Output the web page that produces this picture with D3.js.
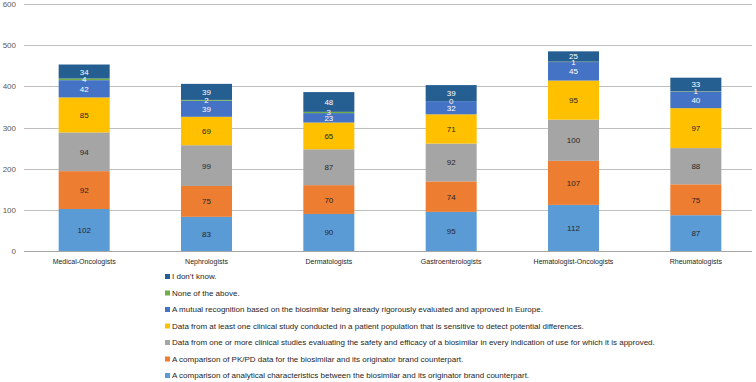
<!DOCTYPE html>
<html>
<head>
<meta charset="utf-8">
<script src="https://cdn.jsdelivr.net/npm/d3@7"></script>
<style>
  body { margin: 0; background: #fff; }
  svg { display: block; font-family: Arial, "Liberation Sans", sans-serif; }
</style>
</head>
<body>
<div id="chart"></div>
<script>
// categories along the x axis
const categories = ["Medical-Oncologists", "Nephrologists", "Dermatologists",
  "Gastroenterologists", "Hematologist-Oncologists", "Rheumatologists"];

// series names (bottom of stack first)
const seriesNames = [
  "A comparison of analytical characteristics between the biosimilar and its originator brand counterpart.",
  "A comparison of PK/PD data for the biosimilar and its originator brand counterpart.",
  "Data from one or more clinical studies evaluating the safety and efficacy of a biosimilar in every indication of use for which it is approved.",
  "Data from at least one clinical study conducted in a patient population that is sensitive to detect potential differences.",
  "A mutual recognition based on the biosimilar being already rigorously evaluated and approved in Europe.",
  "None of the above.",
  "I don\u2019t know."
];

// values per series, one per category
const analytical = [102, 83, 90, 95, 112, 87];
const pkpd       = [92, 75, 70, 74, 107, 75];
const everyIndic = [94, 99, 87, 92, 100, 88];
const sensitive  = [85, 69, 65, 71, 95, 97];
const mutual     = [42, 39, 23, 32, 45, 40];
const noneAbove  = [4, 2, 3, 0, 1, 1];
const dontKnow   = [34, 39, 48, 39, 25, 33];

const yTicks = [0, 100, 200, 300, 400, 500, 600];

const colors = ["#5B9BD5", "#ED7D31", "#A5A5A5", "#FFC000", "#4472C4", "#70AD47", "#255E91"];
const labelColors = ["#262626", "#262626", "#262626", "#262626", "#ffffff", "#ffffff", "#ffffff"];

const seriesValues = [analytical, pkpd, everyIndic, sensitive, mutual, noneAbove, dontKnow];
const keys = seriesNames.map((d, i) => "s" + i);
const table = categories.map((c, ci) => {
  const row = {category: c};
  keys.forEach((k, si) => row[k] = seriesValues[si][ci]);
  return row;
});

const width = 756, height = 382;
const svg = d3.select("#chart").append("svg")
  .attr("width", width)
  .attr("height", height);

const x = d3.scaleBand()
  .domain(categories)
  .range([23, 757])
  .paddingInner(0.583)
  .paddingOuter(0.2915);

const y = d3.scaleLinear()
  .domain([0, 600])
  .range([251, 4]);

// gridlines
svg.append("g")
  .selectAll("line")
  .data(yTicks)
  .join("line")
    .attr("x1", 24)
    .attr("x2", 752)
    .attr("y1", d => Math.round(y(d)) + 0.5)
    .attr("y2", d => Math.round(y(d)) + 0.5)
    .attr("stroke", d => d === 0 ? "#a6a6a6" : "#bfbfbf")
    .attr("stroke-width", 1);

// y tick labels
svg.append("g")
  .selectAll("text")
  .data(yTicks)
  .join("text")
    .attr("x", 16)
    .attr("y", d => y(d) + 3)
    .attr("text-anchor", "end")
    .attr("font-size", "8px")
    .attr("fill", "#595959")
    .text(d => d);

// stacked bars
const stacked = d3.stack().keys(keys)(table);

const layers = svg.append("g")
  .selectAll("g")
  .data(stacked)
  .join("g")
    .attr("fill", (d, i) => colors[i]);

layers.selectAll("rect")
  .data(d => d)
  .join("rect")
    .attr("x", d => x(d.data.category))
    .attr("y", d => y(d[1]))
    .attr("width", x.bandwidth())
    .attr("height", d => y(d[0]) - y(d[1]));

// value labels
const labels = svg.append("g")
  .selectAll("g")
  .data(stacked)
  .join("g")
    .attr("fill", (d, i) => labelColors[i]);

labels.selectAll("text")
  .data(d => d.map(v => ({v, key: d.key})))
  .join("text")
    .attr("x", d => x(d.v.data.category) + x.bandwidth() / 2)
    .attr("y", d => (y(d.v[0]) + y(d.v[1])) / 2 + 3)
    .attr("text-anchor", "middle")
    .attr("font-size", "8px")
    .text(d => d.v.data[d.key]);

// x category labels
svg.append("g")
  .selectAll("text")
  .data(categories)
  .join("text")
    .attr("x", d => x(d) + x.bandwidth() / 2)
    .attr("y", 264)
    .attr("text-anchor", "middle")
    .attr("font-size", "7px")
    .attr("fill", "#262626")
    .text(d => d);

// legend (reverse order, top = last series)
const legendOrder = d3.range(seriesNames.length).reverse();
const legend = svg.append("g")
  .selectAll("g")
  .data(legendOrder)
  .join("g")
    .attr("transform", (d, i) => `translate(165, ${277 + i * 16.5})`);

legend.append("rect")
  .attr("x", 0)
  .attr("y", -3)
  .attr("width", 5)
  .attr("height", 5)
  .attr("fill", d => colors[d]);

legend.append("text")
  .attr("x", 7)
  .attr("y", 2)
  .attr("font-size", "8px")
  .attr("fill", "#262626")
  .text(d => seriesNames[d]);
</script>
</body>
</html>
